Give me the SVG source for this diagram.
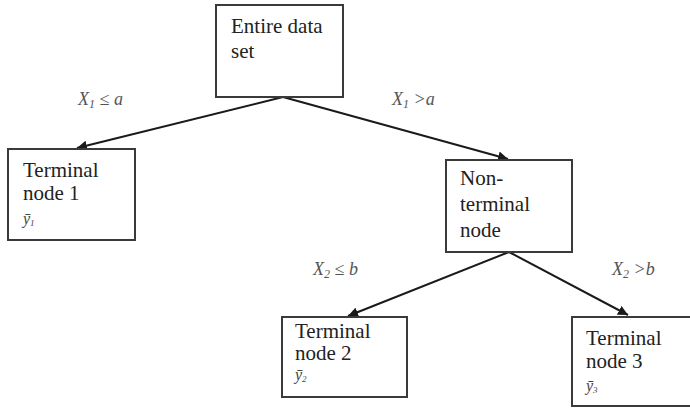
<svg xmlns="http://www.w3.org/2000/svg" width="690" height="409" viewBox="0 0 690 409">
<style>
.box{fill:#fff;stroke:#3a3a3a;stroke-width:2}
.t{font-family:'Liberation Serif','Times New Roman','DejaVu Serif',serif;font-size:21px;fill:#222}
.s{font-family:'Liberation Serif','Times New Roman','DejaVu Serif',serif;font-size:16px;font-style:italic;fill:#444}
.lab{font-family:'Liberation Serif','Times New Roman','DejaVu Serif',serif;font-size:18px;font-style:italic;fill:#555}
.c{stroke:#1a1a1a;stroke-width:2;fill:none;marker-end:url(#ah)}
</style>
<defs>
<marker id="ah" viewBox="0 0 10 10" refX="10" refY="5" markerWidth="5" markerHeight="5" orient="auto" markerUnits="strokeWidth">
<path d="M0,0 L10,5 L0,10 z" fill="#1a1a1a"/>
</marker>
</defs>
<rect width="690" height="409" fill="#fff"/>
<g id="connectors">
<line class="c" x1="283" y1="97" x2="77" y2="148"/>
<line class="c" x1="283" y1="97" x2="508" y2="159"/>
<line class="c" x1="509" y1="252" x2="348" y2="316"/>
<line class="c" x1="509" y1="252" x2="628" y2="315"/>
<text class="lab" x="78" y="105">X<tspan font-size="12" dy="3">1</tspan><tspan dy="-3"> ≤ a</tspan></text>
<text class="lab" x="392" y="105">X<tspan font-size="12" dy="3">1</tspan><tspan dy="-3"> &gt;a</tspan></text>
<text class="lab" x="313" y="275">X<tspan font-size="12" dy="3">2</tspan><tspan dy="-3"> ≤ b</tspan></text>
<text class="lab" x="612" y="275">X<tspan font-size="12" dy="3">2</tspan><tspan dy="-3"> &gt;b</tspan></text>
</g>
<g id="root">
<rect class="box" x="216" y="5" width="127" height="92"/>
<text class="t" x="231" y="33">Entire data</text>
<text class="t" x="231" y="58">set</text>
</g>
<g id="terminal1">
<rect class="box" x="8" y="149" width="127" height="91"/>
<text class="t" x="23" y="177">Terminal</text>
<text class="t" x="23" y="200">node 1</text>
<text class="s" x="23" y="224">ȳ<tspan font-size="9" dy="2">1</tspan></text>
</g>
<g id="nonterminal">
<rect class="box" x="446" y="160" width="126" height="92"/>
<text class="t" x="460" y="185">Non-</text>
<text class="t" x="460" y="211">terminal</text>
<text class="t" x="460" y="237">node</text>
</g>
<g id="terminal2">
<rect class="box" x="282" y="317" width="125" height="80"/>
<text class="t" x="295" y="338">Terminal</text>
<text class="t" x="295" y="360">node 2</text>
<text class="s" x="295" y="380">ȳ<tspan font-size="9" dy="2">2</tspan></text>
</g>
<g id="terminal3">
<rect class="box" x="572" y="317" width="130" height="89"/>
<text class="t" x="586" y="345">Terminal</text>
<text class="t" x="586" y="368">node 3</text>
<text class="s" x="586" y="391">ȳ<tspan font-size="9" dy="2">3</tspan></text>
</g>
</svg>
